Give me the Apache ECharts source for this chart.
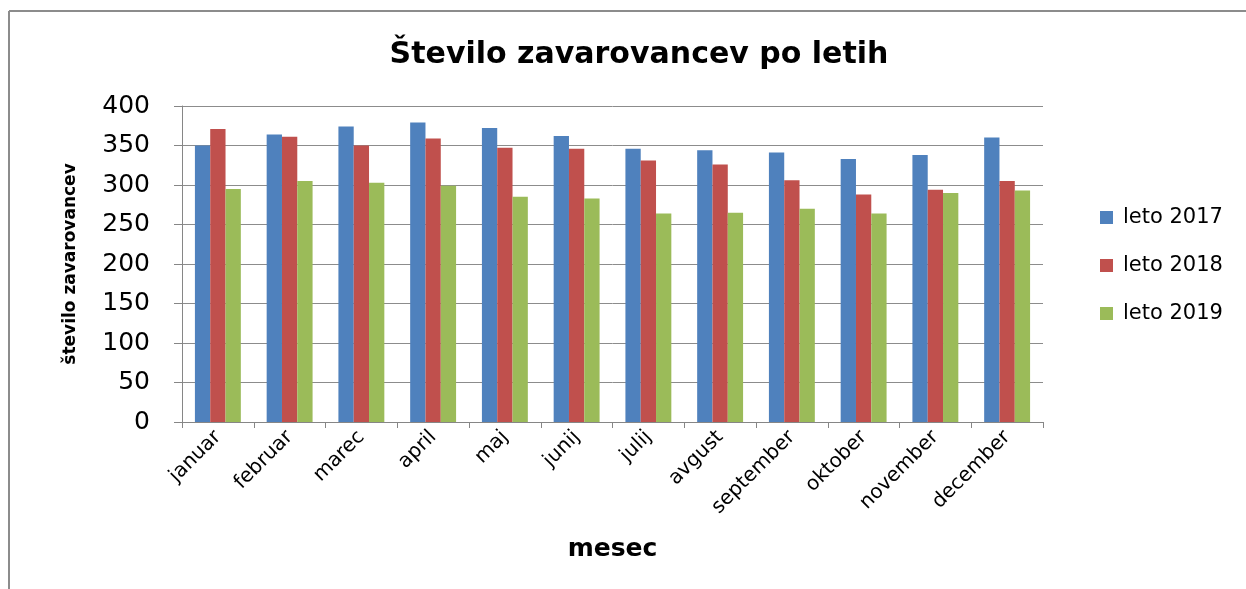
<!DOCTYPE html>
<html lang="sl" style="height: 100%">
  <head>
    <meta charset="utf-8" />
  </head>
  <body style="height: 100%; margin: 0; background: #fff">
    <div id="container" style="width: 1246px; height: 589px"></div>
    <script src="https://cdn.jsdelivr.net/npm/echarts@6/dist/echarts.min.js"></script>
    <script type="text/javascript">
      var months = ["januar", "februar", "marec", "april", "maj", "junij",
        "julij", "avgust", "september", "oktober", "november", "december"];
      var leto2017 = [350, 364, 374, 379, 372, 362, 346, 344, 341, 333, 338, 360];
      var leto2018 = [371, 361, 350, 359, 347, 346, 331, 326, 306, 288, 294, 305];
      var leto2019 = [295, 305, 303, 299, 285, 283, 264, 265, 270, 264, 290, 293];
      var yTicks = [0, 50, 100, 150, 200, 250, 300, 350, 400];

      var font = "DejaVu Sans";
      var dom = document.getElementById("container");
      var myChart = echarts.init(dom, null, { renderer: "canvas" });

      function bar(name, data, color) {
        return {
          name: name,
          type: "bar",
          data: data,
          barGap: "0%",
          barCategoryGap: "36%",
          itemStyle: { color: color },
        };
      }

      var option = {
        animation: false,
        backgroundColor: "#fff",
        textStyle: { fontFamily: font },
        // only the left and top edges of the outer frame are in view
        graphic: [
          {
            type: "line",
            shape: { x1: 9, y1: 11, x2: 9, y2: 589 },
            style: { stroke: "#8c8c8c", lineWidth: 2 },
          },
          {
            type: "line",
            shape: { x1: 9, y1: 11, x2: 1246, y2: 11 },
            style: { stroke: "#8c8c8c", lineWidth: 2 },
          },
        ],
        title: {
          text: "Število zavarovancev po letih",
          left: 634,
          top: 35,
          textAlign: "center",
          textStyle: { fontFamily: font, fontSize: 30, fontWeight: "bold", color: "#000" },
        },
        legend: {
          orient: "vertical",
          left: 1095,
          top: 202,
          itemWidth: 13,
          itemHeight: 13,
          itemGap: 27,
          icon: "rect",
          textStyle: { fontFamily: font, fontSize: 21, color: "#000", padding: [0, 0, 0, 5] },
        },
        grid: { left: 182, right: 203, top: 106, bottom: 167 },
        xAxis: {
          type: "category",
          data: months,
          name: "mesec",
          nameLocation: "middle",
          nameGap: 115,
          nameTextStyle: { fontFamily: font, fontSize: 25, fontWeight: "bold", color: "#000" },
          axisLine: { lineStyle: { color: "#868686", width: 1 } },
          axisTick: { show: true, length: 6, lineStyle: { color: "#868686" } },
          axisLabel: { rotate: 45, fontSize: 20, color: "#000", margin: 12, fontFamily: font },
        },
        yAxis: {
          type: "value",
          min: 0,
          max: 400,
          interval: 50,
          name: "število zavarovancev",
          nameLocation: "middle",
          nameGap: 103,
          nameTextStyle: { fontFamily: font, fontSize: 17, fontWeight: "bold", color: "#000" },
          axisLine: { show: true, lineStyle: { color: "#868686", width: 1 } },
          axisTick: { show: true, length: 8, lineStyle: { color: "#868686" } },
          axisLabel: {
            fontSize: 25,
            color: "#000",
            margin: 32,
            fontFamily: font,
            formatter: function (v) {
              return yTicks.indexOf(v) >= 0 ? String(v) : "";
            },
          },
          splitLine: { lineStyle: { color: "#8c8c8c", width: 1 } },
        },
        series: [
          bar("leto 2017", leto2017, "#4f81bd"),
          bar("leto 2018", leto2018, "#c0504d"),
          bar("leto 2019", leto2019, "#9bbb59"),
        ],
      };

      myChart.setOption(option);
      window.addEventListener("resize", myChart.resize);
    </script>
  </body>
</html>
